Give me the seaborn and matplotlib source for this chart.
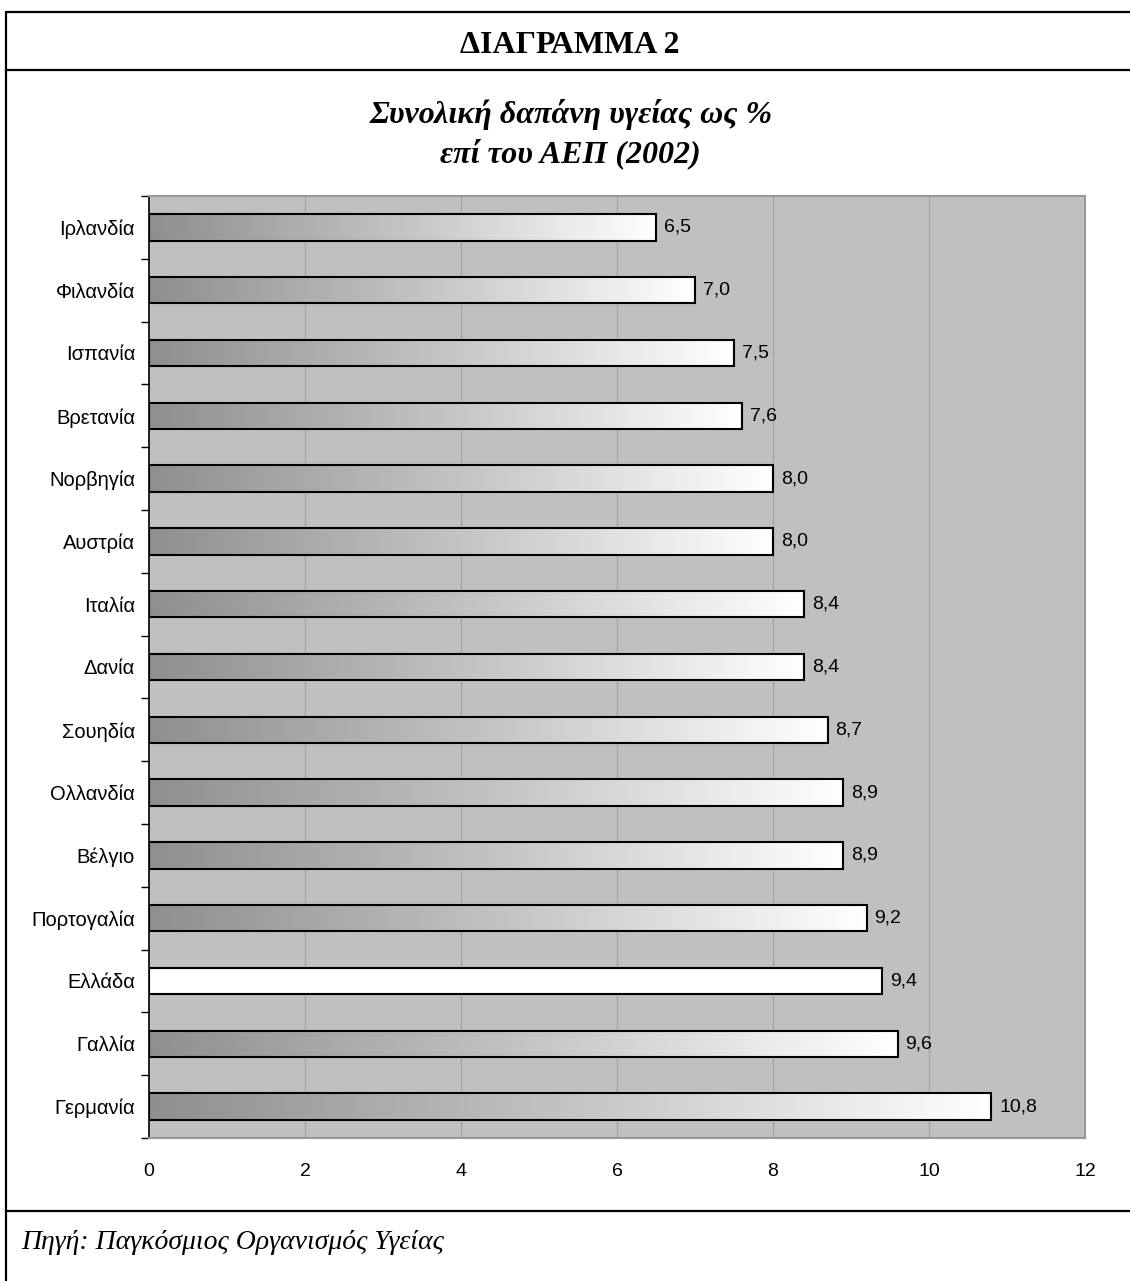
import numpy as np
import pandas as pd
import matplotlib
matplotlib.use("Agg")
import matplotlib.pyplot as plt
from matplotlib.colors import LinearSegmentedColormap
from matplotlib.lines import Line2D
import seaborn as sns

# ---- data ----
countries = ["Ιρλανδία", "Φιλανδία", "Ισπανία", "Βρετανία", "Νορβηγία", "Αυστρία",
             "Ιταλία", "Δανία", "Σουηδία", "Ολλανδία", "Βέλγιο", "Πορτογαλία",
             "Ελλάδα", "Γαλλία", "Γερμανία"]
values = [6.5, 7.0, 7.5, 7.6, 8.0, 8.0, 8.4, 8.4, 8.7, 8.9, 8.9, 9.2, 9.4, 9.6, 10.8]
highlight = "Ελλάδα"
x_ticks = [0, 2, 4, 6, 8, 10, 12]

title = "ΔΙΑΓΡΑΜΜΑ 2"
subtitle_1 = "Συνολική δαπάνη υγείας ως %"
subtitle_2 = "επί του ΑΕΠ (2002)"
source = "Πηγή: Παγκόσμιος Οργανισμός Υγείας"

df = pd.DataFrame({"country": countries, "value": values})

sns.set_theme(style="white")
plt.rcParams["font.family"] = ["Liberation Sans", "DejaVu Sans"]
plt.rcParams["text.color"] = "black"
plt.rcParams["xtick.color"] = "black"
plt.rcParams["ytick.color"] = "black"
plt.rcParams["axes.labelcolor"] = "black"

W, H = 1130, 1281
fig = plt.figure(figsize=(W / 100, H / 100), dpi=100)
ax = fig.add_axes([149 / W, 1 - 1138 / H, (1085 - 149) / W, (1138 - 196) / H])
ax.set_facecolor("#C0C0C0")

sns.barplot(data=df, x="value", y="country", orient="h", ax=ax,
            width=0.42, color="white", edgecolor="black", linewidth=1.5,
            saturation=1, zorder=3)

ax.set_xlim(0, 12)
ax.set_ylim(len(countries) - 0.5, -0.5)

cmap = LinearSegmentedColormap.from_list("grad", ["#8f8f8f", "#c4c4c4", "#ffffff"])
grad = np.linspace(0, 1, 256).reshape(1, -1)
for patch, name, v in zip(ax.patches, countries, values):
    x0, y0 = patch.get_x(), patch.get_y()
    w, h = patch.get_width(), patch.get_height()
    if name != highlight:
        im = ax.imshow(grad, extent=[x0, x0 + w, y0 + h, y0], aspect="auto",
                       cmap=cmap, zorder=3.5, interpolation="bilinear")
        im.set_clip_path(patch)
        patch.set_facecolor("none")
        patch.set_zorder(4)
    ax.text(x0 + w + 0.1, y0 + h / 2, f"{v:.1f}".replace(".", ","),
            va="center", ha="left", fontsize=14, color="black", zorder=5)

ax.set_xlim(0, 12)
ax.set_ylim(len(countries) - 0.5, -0.5)

# gridlines
ax.set_xticks(x_ticks)
ax.set_xticklabels([str(t) for t in x_ticks], fontsize=14)
for t in x_ticks[1:-1]:
    ax.axvline(t, color="#a4a4a4", linewidth=0.9, zorder=1)

# y ticks at category boundaries
ax.set_yticks(range(len(countries)))
ax.set_yticklabels(countries, fontsize=14.5)
ax.set_yticks(np.arange(-0.5, len(countries), 1.0), minor=True)
ax.tick_params(axis="y", which="major", length=0, pad=10)
ax.tick_params(axis="y", which="minor", length=6, width=1, color="black", direction="out", left=True)
ax.tick_params(axis="x", which="major", length=0, pad=18)
ax.set_xlabel("")
ax.set_ylabel("")

for side in ["top", "right", "bottom"]:
    ax.spines[side].set_color("#999999")
    ax.spines[side].set_linewidth(1.5)
ax.spines["left"].set_color("black")
ax.spines["left"].set_linewidth(1.2)

# frame lines
lw = 1.6
fig.add_artist(Line2D([6 / W, 6 / W], [0, 1 - 12 / H], color="black", linewidth=lw))
fig.add_artist(Line2D([6 / W, 1], [1 - 12 / H, 1 - 12 / H], color="black", linewidth=lw))
fig.add_artist(Line2D([6 / W, 1], [1 - 70 / H, 1 - 70 / H], color="black", linewidth=lw))
fig.add_artist(Line2D([6 / W, 1], [1 - 1211 / H, 1 - 1211 / H], color="black", linewidth=lw))

serif = ["Liberation Serif", "DejaVu Serif"]
fig.text(570 / W, 1 - 53 / H, title, ha="center", va="baseline", fontsize=23,
         fontweight="bold", family=serif)
fig.text(571 / W, 1 - 123 / H, subtitle_1, ha="center", va="baseline", fontsize=23,
         fontweight="bold", fontstyle="italic", family=serif)
fig.text(570 / W, 1 - 162 / H, subtitle_2, ha="center", va="baseline", fontsize=23,
         fontweight="bold", fontstyle="italic", family=serif)
fig.text(21 / W, 1 - 1249 / H, source, ha="left", va="baseline", fontsize=20,
         fontstyle="italic", family=serif)

fig.savefig("out.png", dpi=100, facecolor="white")
